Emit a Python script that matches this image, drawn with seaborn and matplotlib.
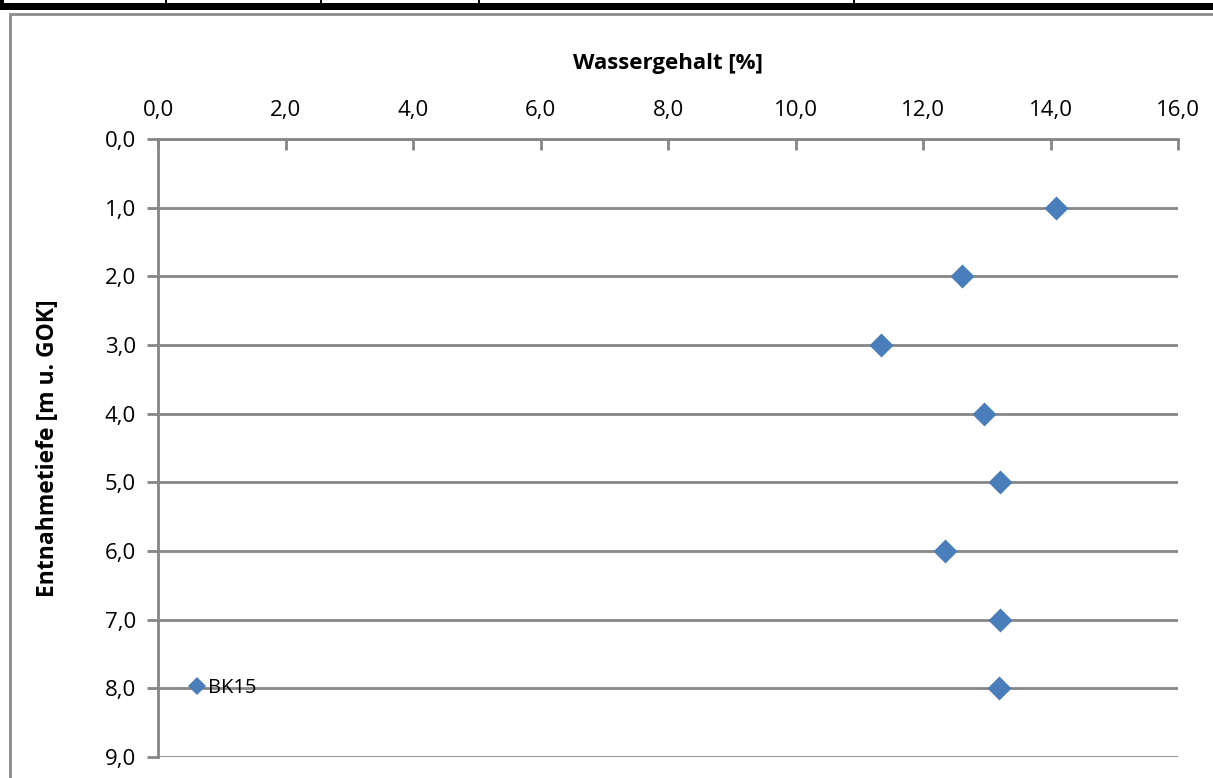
import matplotlib
matplotlib.use("Agg")
import matplotlib.pyplot as plt
from matplotlib.patches import Rectangle
from matplotlib.lines import Line2D
from matplotlib.ticker import FuncFormatter
import seaborn as sns
import pandas as pd

# Probe series: water content vs. sampling depth
sample_name = "BK15"
depth_m = [1.0, 2.0, 3.0, 4.0, 5.0, 6.0, 7.0, 8.0]
water_content_pct = [14.09, 12.61, 11.34, 12.96, 13.21, 12.35, 13.21, 13.19]

x_ticks = [0, 2, 4, 6, 8, 10, 12, 14, 16]
y_ticks = [0, 1, 2, 3, 4, 5, 6, 7, 8, 9]

sns.set_style("white")
plt.rcParams["font.family"] = ["Open Sans", "DejaVu Sans"]
plt.rcParams["text.color"] = "black"
plt.rcParams["axes.labelcolor"] = "black"
plt.rcParams["xtick.labelcolor"] = "black"
plt.rcParams["ytick.labelcolor"] = "black"

W, H = 1213, 778
fig = plt.figure(figsize=(W / 100, H / 100), dpi=100)
ax = fig.add_axes([158 / W, 1 - 757 / H, 1020 / W, 618 / H])

df = pd.DataFrame({"Wassergehalt": water_content_pct, "Tiefe": depth_m,
                   "Probe": [sample_name] * len(depth_m)})

blue = "#4A7EBB"
grid_c = "#868686"

sns.scatterplot(data=df, x="Wassergehalt", y="Tiefe", marker="D", s=150,
                color=blue, edgecolor=blue, linewidth=0, ax=ax, legend=False,
                zorder=5, clip_on=False)

ax.set_xlim(0, 16)
ax.set_ylim(9, 0)
ax.set_xticks(x_ticks)
ax.set_yticks(y_ticks)
fmt = FuncFormatter(lambda v, p: f"{v:.1f}".replace(".", ","))
ax.xaxis.set_major_formatter(fmt)
ax.yaxis.set_major_formatter(fmt)

ax.xaxis.tick_top()
ax.xaxis.set_label_position("top")
ax.tick_params(axis="x", direction="in", length=8, width=2, color=grid_c,
               labelsize=16, pad=13, labelcolor="black")
ax.tick_params(axis="y", direction="out", length=8, width=2, color=grid_c,
               labelsize=16, pad=8, left=True, labelcolor="black")

ax.yaxis.grid(True, color=grid_c, linewidth=2)
ax.set_axisbelow(True)
for side in ["right", "bottom"]:
    ax.spines[side].set_visible(False)
for side in ["left", "top"]:
    ax.spines[side].set_color(grid_c)
    ax.spines[side].set_linewidth(2)

ax.set_xlabel("Wassergehalt [%]", fontsize=16, fontweight="bold", labelpad=22,
              color="black")
ax.set_ylabel("Entnahmetiefe [m u. GOK]", fontsize=16.5, fontweight="bold",
              labelpad=32, color="black")

handle = Line2D([], [], marker="D", color=blue, linestyle="none", markersize=9,
                markeredgewidth=0)
leg = ax.legend([handle], [sample_name], loc="center left", frameon=False,
                bbox_to_anchor=(0.022, 0.112), fontsize=14.5, handlelength=0.6,
                handletextpad=0.25, borderpad=0)
for t in leg.get_texts():
    t.set_color("black")

# Chart frame and the table border above it
fig.patches.append(Rectangle((10 / W, -0.1), 1.2, 1 - 14 / H + 0.1,
                             transform=fig.transFigure, fill=False,
                             edgecolor="#8c8c8c", linewidth=2))
fig.patches.append(Rectangle((0, 1 - 10 / H), 1, 7 / H,
                             transform=fig.transFigure, color="black", lw=0))
fig.patches.append(Rectangle((0, 1 - 10 / H), 4 / W, 10 / H,
                             transform=fig.transFigure, color="black", lw=0))
for xd in [165, 320, 478, 853]:
    fig.patches.append(Rectangle((xd / W, 1 - 4 / H), 2 / W, 4 / H,
                                 transform=fig.transFigure, color="black",
                                 lw=0))

fig.savefig("out.png", dpi=100)
